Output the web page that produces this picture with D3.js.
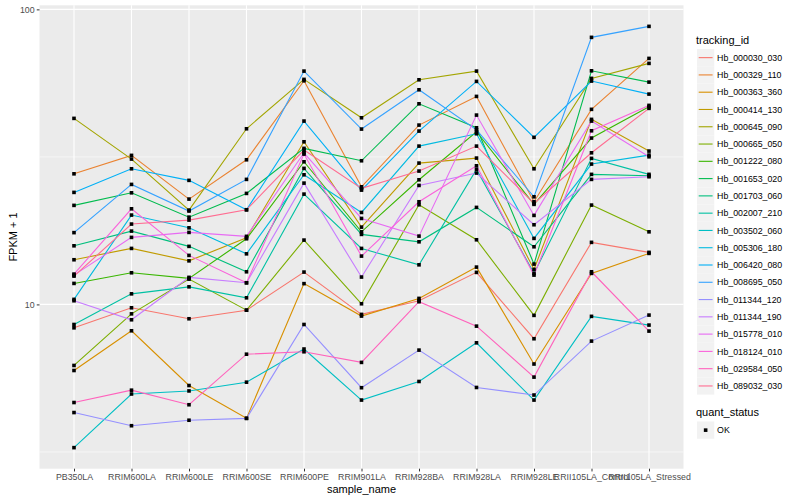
<!DOCTYPE html>
<html><head><meta charset="utf-8">
<script src="https://cdn.jsdelivr.net/npm/d3@7"></script>
<style>body{margin:0;background:#fff} svg{display:block}</style>
</head><body><svg id="chart" width="800" height="500"></svg>
<script>
const categories = ["PB350LA","RRIM600LA","RRIM600LE","RRIM600SE","RRIM600PE","RRIM901LA","RRIM928BA","RRIM928LA","RRIM928LE","RRII105LA_Control","RRII105LA_Stressed"];
const trackingIds = ["Hb_000030_030","Hb_000329_110","Hb_000363_360","Hb_000414_130","Hb_000645_090","Hb_000665_050","Hb_001222_080","Hb_001653_020","Hb_001703_060","Hb_002007_210","Hb_003502_060","Hb_005306_180","Hb_006420_080","Hb_008695_050","Hb_011344_120","Hb_011344_190","Hb_015778_010","Hb_018124_010","Hb_029584_050","Hb_089032_030"];
const seriesColors = ["#F8766D","#EA8331","#D89000","#C09B00","#A3A500","#7CAE00","#39B600","#00BB4E","#00BF7D","#00C1A3","#00BFC4","#00BAE0","#00B0F6","#35A2FF","#9590FF","#C77CFF","#E76BF3","#FA62DB","#FF62BC","#FF6C91"];
const quantStatus = ["OK"];
const yTicks = [10, 100];
const yTickLabels = ["10", "100"];
const yMinorTicks = [3.162, 31.62];

// FPKM + 1 per sample, one array per tracking_id (same order as categories)
const Hb_000030_030 = [8.33, 9.74, 8.94, 9.56, 12.87, 9.25, 10.29, 12.84, 7.65, 16.23, 15.01];
const Hb_000329_110 = [27.71, 32.0, 22.75, 30.92, 57.27, 25.04, 40.53, 50.7, 22.28, 45.83, 68.2];
const Hb_000363_360 = [5.97, 8.14, 5.31, 4.11, 11.76, 9.13, 10.48, 13.38, 6.28, 12.74, 14.89];
const Hb_000414_130 = [14.17, 15.48, 14.05, 16.82, 35.58, 18.28, 30.13, 31.33, 13.14, 42.38, 33.09];
const Hb_000645_090 = [42.71, 31.09, 20.88, 39.38, 57.9, 42.91, 57.72, 61.77, 28.82, 58.36, 65.6];
const Hb_000665_050 = [6.21, 9.29, 12.18, 9.56, 16.52, 10.05, 21.76, 16.56, 9.18, 21.71, 17.62];
const Hb_001222_080 = [11.78, 12.8, 12.25, 16.69, 30.44, 17.62, 26.45, 38.47, 21.83, 36.63, 46.76];
const Hb_001653_020 = [21.66, 23.89, 19.76, 23.78, 33.8, 30.68, 47.86, 39.69, 13.7, 61.91, 56.69];
const Hb_001703_060 = [15.8, 17.72, 15.73, 12.9, 28.91, 17.27, 16.3, 21.32, 15.68, 27.59, 27.29];
const Hb_002007_210 = [8.55, 10.86, 11.47, 10.53, 23.65, 15.48, 13.62, 28.69, 12.74, 31.26, 27.59];
const Hb_003502_060 = [3.27, 4.97, 5.09, 5.45, 7.06, 4.74, 5.48, 7.41, 4.74, 9.11, 8.51];
const Hb_005306_180 = [10.4, 20.08, 18.18, 14.84, 27.5, 20.5, 34.4, 37.88, 16.74, 29.9, 32.07];
const Hb_006420_080 = [23.97, 28.82, 26.33, 20.93, 41.82, 24.4, 38.68, 57.0, 36.83, 57.14, 51.62];
const Hb_008695_050 = [17.51, 25.51, 20.72, 26.53, 61.77, 39.29, 53.39, 39.07, 23.16, 80.38, 87.58];
const Hb_011344_120 = [4.3, 3.88, 4.05, 4.11, 8.55, 5.22, 7.0, 5.23, 4.93, 7.51, 9.2];
const Hb_011344_190 = [10.29, 8.87, 12.35, 11.84, 25.77, 12.38, 25.31, 27.87, 18.62, 26.53, 27.08];
const Hb_015778_010 = [12.57, 16.87, 17.54, 17.01, 32.65, 19.56, 17.04, 43.82, 20.03, 41.82, 31.65];
const Hb_018124_010 = [12.67, 21.09, 14.66, 11.84, 32.32, 14.58, 22.28, 29.5, 12.57, 38.77, 47.27];
const Hb_029584_050 = [4.65, 5.12, 4.57, 6.78, 6.91, 6.36, 10.21, 8.44, 5.67, 12.9, 8.12];
const Hb_089032_030 = [12.47, 18.72, 19.31, 20.93, 33.35, 24.73, 28.31, 34.4, 21.99, 32.65, 46.18];

const seriesValues = [Hb_000030_030, Hb_000329_110, Hb_000363_360, Hb_000414_130, Hb_000645_090, Hb_000665_050, Hb_001222_080, Hb_001653_020, Hb_001703_060, Hb_002007_210, Hb_003502_060, Hb_005306_180, Hb_006420_080, Hb_008695_050, Hb_011344_120, Hb_011344_190, Hb_015778_010, Hb_018124_010, Hb_029584_050, Hb_089032_030];

const series = trackingIds.map((id, i) => ({
  id, color: seriesColors[i],
  points: categories.map((c, j) => ({ sample: c, value: seriesValues[i][j] }))
}));

const svg = d3.select("#chart");
const font = "'Liberation Sans', Arial, Helvetica, sans-serif";
const panel = { left: 39.5, right: 683.5, top: 5.3, bottom: 468.7 };

const x = d3.scalePoint().domain(categories).range([panel.left, panel.right]).padding(0.6);

const allVals = seriesValues.flat();
const lo = Math.log10(d3.min(allVals)), hi = Math.log10(d3.max(allVals));
const pad = (hi - lo) * 0.05;
const y = d3.scaleLog().domain([Math.pow(10, lo - pad), Math.pow(10, hi + pad)]).range([panel.bottom, panel.top]);

// panel background
svg.append("rect").attr("x", panel.left).attr("y", panel.top)
  .attr("width", panel.right - panel.left).attr("height", panel.bottom - panel.top)
  .attr("fill", "#EBEBEB");

const grid = svg.append("g");
yMinorTicks.forEach(v => {
  grid.append("line").attr("x1", panel.left).attr("x2", panel.right)
    .attr("y1", y(v)).attr("y2", y(v)).attr("stroke", "#fff").attr("stroke-width", 0.55);
});
yTicks.forEach(v => {
  grid.append("line").attr("x1", panel.left).attr("x2", panel.right)
    .attr("y1", y(v)).attr("y2", y(v)).attr("stroke", "#fff").attr("stroke-width", 1.1);
});
categories.forEach(c => {
  grid.append("line").attr("x1", x(c)).attr("x2", x(c))
    .attr("y1", panel.top).attr("y2", panel.bottom).attr("stroke", "#fff").attr("stroke-width", 1.1);
});

// lines
const line = d3.line().x(d => x(d.sample)).y(d => y(d.value));
svg.append("g").selectAll("path").data(series).join("path")
  .attr("d", d => line(d.points)).attr("fill", "none")
  .attr("stroke", d => d.color).attr("stroke-width", 1.1);

// points
const ps = 3.6;
svg.append("g").selectAll("g").data(series).join("g")
  .selectAll("rect").data(d => d.points).join("rect")
  .attr("x", d => x(d.sample) - ps / 2).attr("y", d => y(d.value) - ps / 2)
  .attr("width", ps).attr("height", ps).attr("fill", "#000");

// y axis
const yAxis = d3.axisLeft(y).tickValues(yTicks).tickFormat((d, i) => yTickLabels[i]).tickSize(2.75).tickPadding(2.2);
const ya = svg.append("g").attr("transform", `translate(${panel.left},0)`).call(yAxis);
ya.select(".domain").remove();
ya.selectAll("line").attr("stroke", "#333").attr("stroke-width", 1);
ya.selectAll("text").attr("fill", "#4D4D4D").style("font-family", font).style("font-size", "8.8px");

// x axis
const xAxis = d3.axisBottom(x).tickSize(2.75).tickPadding(2.2);
const xa = svg.append("g").attr("transform", `translate(0,${panel.bottom})`).call(xAxis);
xa.select(".domain").remove();
xa.selectAll("line").attr("stroke", "#333").attr("stroke-width", 1);
xa.selectAll("text").attr("fill", "#4D4D4D").style("font-family", font).style("font-size", "8.8px");

// axis titles
svg.append("text").attr("x", (panel.left + panel.right) / 2).attr("y", 493)
  .attr("text-anchor", "middle").style("font-family", font).style("font-size", "11px").attr("fill", "#000")
  .text("sample_name");
svg.append("text").attr("transform", `translate(16.5,${(panel.top + panel.bottom) / 2}) rotate(-90)`)
  .attr("text-anchor", "middle").style("font-family", font).style("font-size", "11px").attr("fill", "#000")
  .text("FPKM + 1");

// legend: tracking_id
const lg = svg.append("g");
const keyH = 17.28, keyX = 697, keyY0 = 49;
lg.append("text").attr("x", 696).attr("y", 44).style("font-family", font).style("font-size", "11px").text("tracking_id");
series.forEach((s, i) => {
  const ky = keyY0 + i * keyH;
  lg.append("rect").attr("x", keyX).attr("y", ky).attr("width", keyH).attr("height", keyH).attr("fill", "#F2F2F2");
  lg.append("line").attr("x1", keyX + 1.7).attr("x2", keyX + keyH - 1.7)
    .attr("y1", ky + keyH / 2).attr("y2", ky + keyH / 2).attr("stroke", s.color).attr("stroke-width", 1.1);
  lg.append("text").attr("x", keyX + keyH + 2.8).attr("y", ky + keyH / 2 + 3.1)
    .style("font-family", font).style("font-size", "8.8px").attr("fill", "#000").text(s.id);
});

// legend: quant_status
const qy = 412;
lg.append("text").attr("x", 696).attr("y", qy + 4).style("font-family", font).style("font-size", "11px").text("quant_status");
quantStatus.forEach((q, i) => {
  const ky = 421.5 + i * keyH;
  lg.append("rect").attr("x", keyX).attr("y", ky).attr("width", keyH).attr("height", keyH).attr("fill", "#F2F2F2");
  lg.append("rect").attr("x", keyX + keyH / 2 - ps / 2).attr("y", ky + keyH / 2 - ps / 2).attr("width", ps).attr("height", ps).attr("fill", "#000");
  lg.append("text").attr("x", keyX + keyH + 2.8).attr("y", ky + keyH / 2 + 3.1)
    .style("font-family", font).style("font-size", "8.8px").attr("fill", "#000").text(q);
});
</script></body></html>
